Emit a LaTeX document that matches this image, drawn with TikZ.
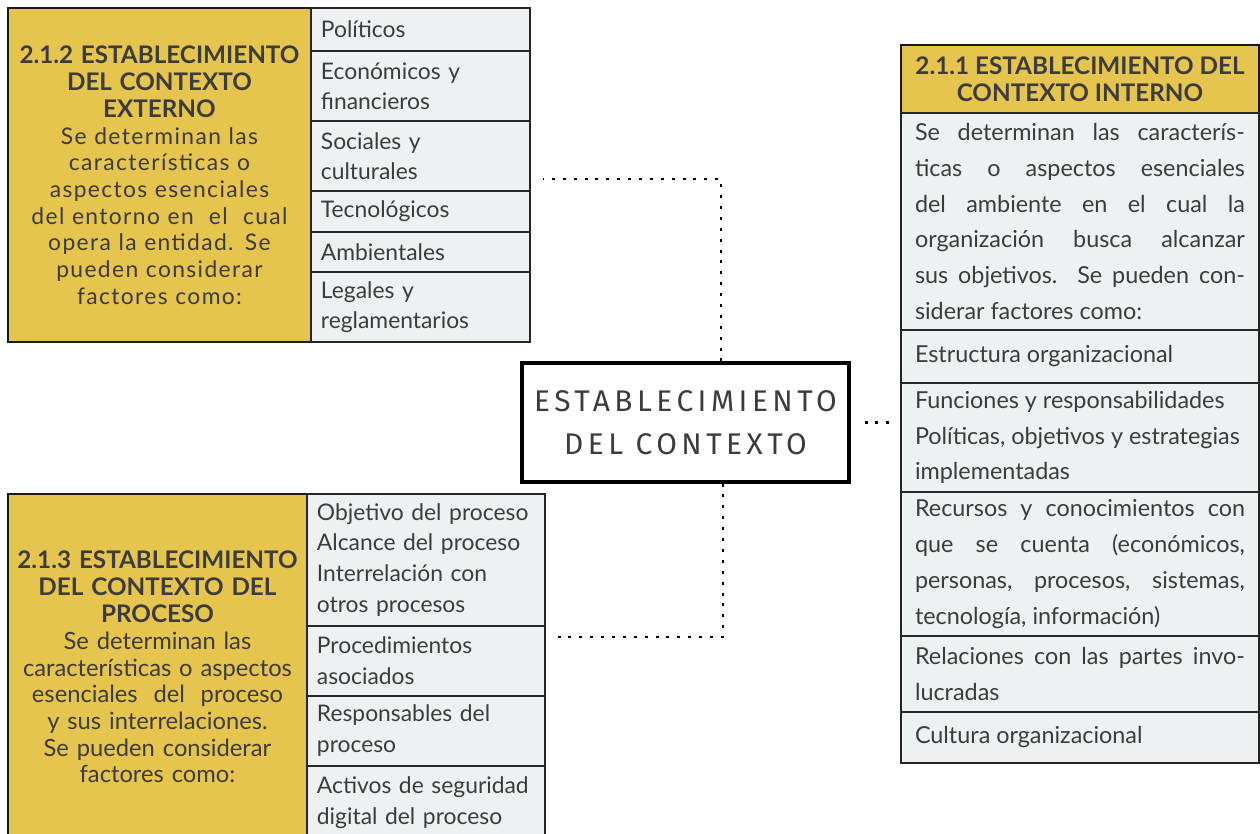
\documentclass[tikz,border=0pt]{standalone}
\usepackage{fontspec}
\setmainfont{Lato}
\newfontfamily\widefont[LetterSpace=6]{Lato}
\newfontfamily\titlefont[LetterSpace=15]{Fira Sans}
\usetikzlibrary{positioning}
\definecolor{gold}{HTML}{E6C54E}
\definecolor{pale}{HTML}{EEF1F2}
\definecolor{ink}{HTML}{3C3C3C}
\tikzset{
  head/.style={draw=black!90, line width=1.1pt, fill=gold, text=ink, align=center,
    anchor=north west, inner sep=0pt, outer sep=0pt},
  item/.style={draw=black!85, line width=1pt, fill=pale, text=ink, align=left,
    anchor=north west, inner xsep=0.2cm, inner ysep=0pt, outer sep=0pt},
  cellL/.style={item, text width=3.98cm, font=\fontsize{13}{17}\selectfont},
  cellB/.style={item, text width=4.36cm, font=\fontsize{13}{17.6}\selectfont},
  cellR/.style={item, text width=6.6cm, inner xsep=0.28cm, align=justify,
    font=\fontsize{13.3}{20.4}\selectfont},
  conn/.style={line width=1.5pt, dash pattern=on 1.7pt off 4.5pt}
}
\begin{document}
\begin{tikzpicture}[x=0.02cm,y=-0.02cm]
\useasboundingbox (0,0) rectangle (1260,833);

% contexto externo
\node[head, minimum width=6.06cm, minimum height=6.68cm, text width=5.9cm,
  font=\widefont\fontsize{13}{15.2}\selectfont] (ext) at (8,8)
  {{\normalfont\bfseries\fontsize{13.8}{15.4}\selectfont 2.1.2 ESTABLECIMIENTO\\DEL CONTEXTO\\EXTERNO\par}
   Se determinan las\\características o\\aspectos esenciales\\del entorno en\ \ el\ \ cual\\opera la entidad. Se\\pueden considerar\\factores como:};
\node[cellL, minimum height=0.86cm] (pol) at (ext.north east) {Políticos};
\node[cellL, minimum height=1.4cm, below=0pt of pol] (eco) {Económicos y\\financieros};
\node[cellL, minimum height=1.4cm, below=0pt of eco] (soc) {Sociales y\\culturales};
\node[cellL, minimum height=0.82cm, below=0pt of soc] (tec) {Tecnológicos};
\node[cellL, minimum height=0.8cm, below=0pt of tec] (amb) {Ambientales};
\node[cellL, minimum height=1.4cm, below=0pt of amb] (leg) {Legales y\\reglamentarios};

% contexto del proceso
\node[head, minimum width=5.98cm, minimum height=6.92cm, text width=5.9cm,
  font=\fontsize{13.5}{15.2}\selectfont] (proc) at (8,494)
  {{\bfseries\fontsize{13.8}{15.4}\selectfont 2.1.3 ESTABLECIMIENTO\\DEL CONTEXTO DEL\\PROCESO\par}
   Se determinan las\\características o aspectos\\esenciales\ \ del\ \ proceso\\y sus interrelaciones.\\Se pueden considerar\\factores como:};
\node[cellB, minimum height=2.64cm] (obj) at (proc.north east) {Objetivo del proceso\\Alcance del proceso\\Interrelación con\\otros procesos};
\node[cellB, minimum height=1.4cm, below=0pt of obj] (pro) {Procedimientos\\asociados};
\node[cellB, minimum height=1.4cm, below=0pt of pro] (res) {Responsables del\\proceso};
\node[cellB, minimum height=1.48cm, below=0pt of res] (act) {Activos de seguridad\\digital del proceso};

% contexto interno
\node[head, minimum width=7.16cm, minimum height=1.36cm,
  font=\bfseries\fontsize{13.8}{15.4}\selectfont] (intr) at (901,45)
  {2.1.1 ESTABLECIMIENTO DEL\\CONTEXTO INTERNO};
\node[cellR, minimum height=4.34cm, below=0pt of intr] (intb)
  {Se determinan las caracterís-\linebreak ticas o aspectos esenciales\linebreak
   del ambiente en el cual la\linebreak organización busca alcanzar\linebreak
   sus objetivos. Se pueden con-\linebreak siderar factores como:};
\node[cellR, minimum height=1.06cm, below=0pt of intb] (est) {Estructura organizacional};
\node[cellR, minimum height=2.18cm, below=0pt of est] (fun)
  {Funciones y responsabilidades\\Políticas, objetivos y estrategias\\implementadas};
\node[cellR, minimum height=2.88cm, below=0pt of fun] (rec)
  {Recursos y conocimientos con\linebreak que se cuenta (económicos,\linebreak
   personas, procesos, sistemas,\linebreak tecnología, información)};
\node[cellR, minimum height=1.52cm, below=0pt of rec] (rel)
  {Relaciones con las partes invo-\linebreak lucradas};
\node[cellR, minimum height=1.02cm, below=0pt of rel] (cul) {Cultura organizacional};

% nodo central
\node[draw=black, line width=1.8pt, fill=white, minimum width=6.54cm, minimum height=2.38cm,
  inner sep=0pt, text=ink, align=center, font=\titlefont\fontsize{17}{24.4}\selectfont] (ctr) at (685.5,422.5)
  {ESTABLECIMIENTO\\DEL CONTEXTO};

% conectores
\coordinate (tk) at (721,179);
\coordinate (bk) at (723,637);
\draw[conn, shorten >=0.26cm] (ctr.north -| tk) -- (tk) -- (tk -| soc.east);
\draw[conn, shorten >=0.2cm] (ctr.south -| bk) -- (bk) -- (bk -| pro.east);
\draw[conn, shorten <=0.28cm, shorten >=0.2cm] (ctr.east) -- (ctr.east -| est.west);
\end{tikzpicture}
\end{document}
